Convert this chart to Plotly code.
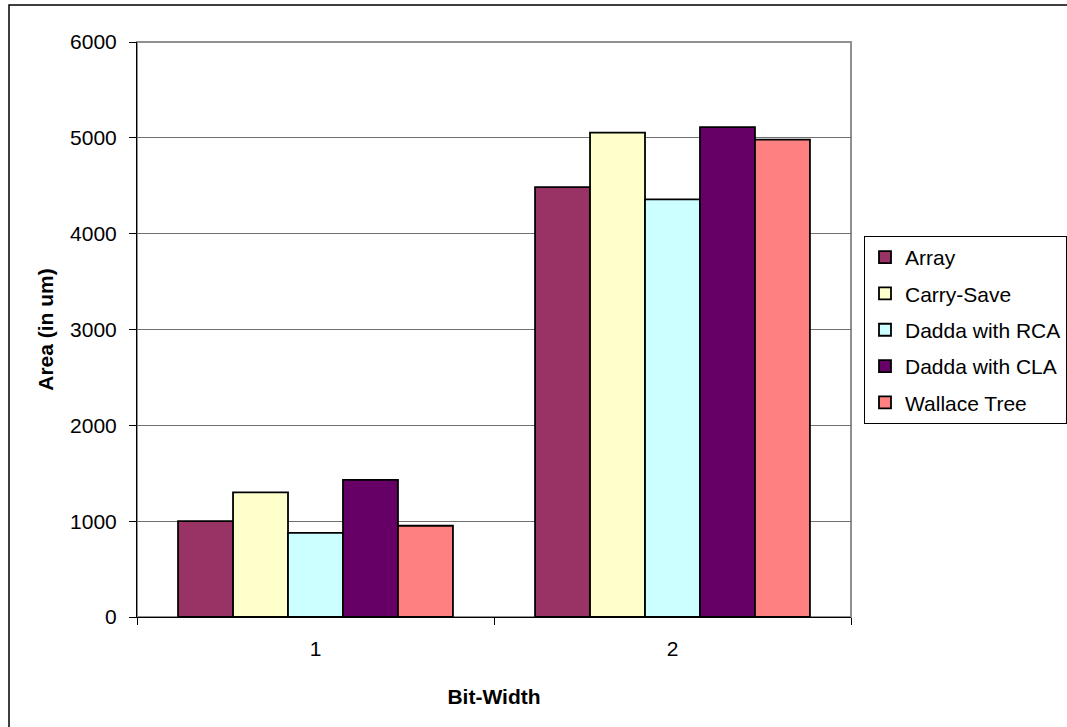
import plotly.graph_objects as go

categories = ["1", "2"]
series_names = ["Array", "Carry-Save", "Dadda with RCA", "Dadda with CLA", "Wallace Tree"]
array_vals = [1000, 4485]
carry_save_vals = [1300, 5055]
dadda_rca_vals = [878, 4358]
dadda_cla_vals = [1430, 5112]
wallace_vals = [952, 4982]
colors = ["#993366", "#FFFFCC", "#CCFFFF", "#660066", "#FF8080"]
y_ticks = [0, 1000, 2000, 3000, 4000, 5000, 6000]

all_vals = [array_vals, carry_save_vals, dadda_rca_vals, dadda_cla_vals, wallace_vals]

FONT = "Liberation Sans, Arial, sans-serif"

fig = go.Figure()
for name, vals, col in zip(series_names, all_vals, colors):
    fig.add_trace(go.Bar(
        x=categories, y=vals, name=name, legendgroup=name,
        marker=dict(color=col, line=dict(color="black", width=1.8)),
    ))

L, R, T, B = 137, 216, 42, 110
W, H = 1067, 727
pw = W - L - R
ph = H - T - B

fig.update_layout(
    width=W, height=H,
    margin=dict(l=L, r=R, t=T, b=B, pad=0, autoexpand=False),
    paper_bgcolor="white", plot_bgcolor="white",
    barmode="group", bargap=0.23, bargroupgap=0,
    font=dict(family=FONT, size=21, color="black"),
    showlegend=True,
    legend=dict(
        xref="container", yref="container",
        x=864 / W, y=1 - 236 / H, xanchor="left", yanchor="top",
        bordercolor="black", borderwidth=1, bgcolor="white",
        font=dict(size=21), tracegroupgap=6,
        itemwidth=30,
    ),
    xaxis=dict(
        type="category", range=[-0.5, 1.5],
        showline=True, linecolor="black", linewidth=1,
        ticks="outside", ticklen=7, tickcolor="black", tickson="boundaries",
        ticklabelstandoff=13,
        showgrid=False, zeroline=False,
        title=dict(text="<b>Bit-Width</b>", font=dict(size=21), standoff=30),
    ),
    yaxis=dict(
        range=[0, 6000], tickvals=y_ticks, ticktext=[str(v) for v in y_ticks],
        showline=True, linecolor="black", linewidth=1,
        ticks="outside", ticklen=7, tickcolor="black",
        ticklabelstandoff=8,
        showgrid=True, gridcolor="#707070", gridwidth=1,
        zeroline=False,
        title=dict(text="<b>Area (in um)</b>", font=dict(size=21), standoff=10),
    ),
    shapes=[
        dict(type="rect", xref="paper", yref="paper", x0=0, y0=0, x1=1, y1=1,
             line=dict(color="#909090", width=2), layer="below"),
        dict(type="rect", xref="paper", yref="paper",
             x0=(9 - L) / pw, y0=-0.5, x1=1.6, y1=(H - B - 5) / ph,
             line=dict(color="black", width=1.5), layer="below"),
    ],
)

fig.write_html("out.html")
